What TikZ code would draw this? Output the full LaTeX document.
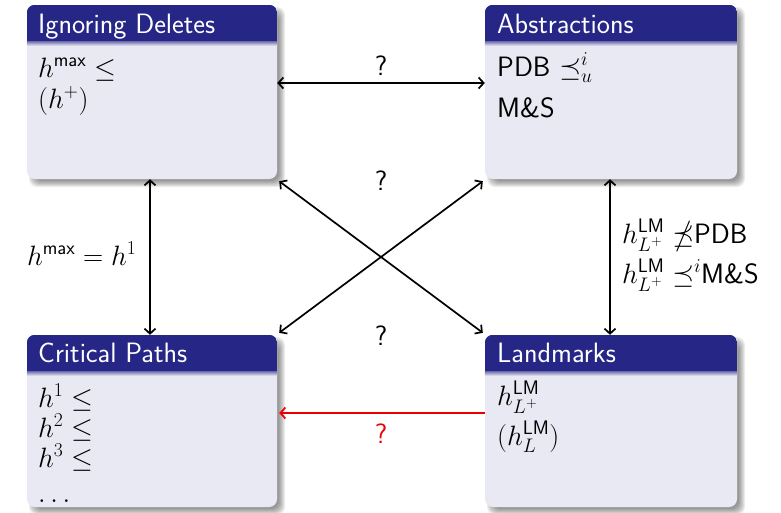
\RequirePackage{fix-cm}
\documentclass[tikz,border=0pt]{standalone}
\usepackage{amsmath,amssymb}
\usetikzlibrary{arrows.meta}
\definecolor{titlecol}{RGB}{38,38,134}
\definecolor{bodycol}{RGB}{233,233,243}
\definecolor{qred}{RGB}{235,0,0}
\tikzset{
  blockbox/.style={rectangle, rounded corners=8pt, fill=bodycol, inner sep=0pt},
  btitle/.style={anchor=base west, text=white, inner sep=0pt},
  btext/.style={anchor=base west, inner sep=0pt},
  qmark/.style={anchor=base, inner sep=0pt},
  conn/.style={line width=1.7pt, {Straight Barb[length=5pt,width=11pt]}-{Straight Barb[length=5pt,width=11pt]}},
  redconn/.style={line width=1.7pt, draw=qred, -{Straight Barb[length=5pt,width=11pt]}},
}
\newcommand{\myshadow}[4]{%
  \foreach \e in {-3,-2,-1,0,1,2,3}{%
    \fill[black, opacity=0.07, rounded corners=8pt] (#1+5-\e,#2+5-\e) rectangle (#3+5+\e,#4+5+\e);}%
}
\newcommand{\myblock}[5]{% name, x1, y1, x2, y2
  \myshadow{#2}{#3}{#4}{#5}
  \node[blockbox, minimum width=#4-#2, minimum height=#5-#3] (#1) at ({(#2+#4)/2},{(#3+#5)/2}) {};
  \begin{scope}
    \clip[rounded corners=8pt] (#1.south west) rectangle (#1.north east);
    \fill[titlecol] (#1.north west) rectangle ([yshift=-37pt]#1.north east);
    \shade[top color=titlecol!55!bodycol, bottom color=bodycol] ([yshift=-37pt]#1.north west) rectangle ([yshift=-41pt]#1.north east);
  \end{scope}
}
\begin{document}
\begin{tikzpicture}[x=1pt, y=-1pt, font=\fontsize{28}{33}\selectfont\sffamily]
\useasboundingbox (0,0) rectangle (781,512);
\myblock{TL}{27}{5}{277}{179}
\myblock{TR}{485}{5}{737}{179}
\myblock{BL}{27}{335}{277}{507}
\myblock{BR}{485}{335}{737}{507}

% titles
\node[btitle] (tTL) at (38,33) {Ignoring Deletes};
\node[btitle] (tTR) at (497,33) {Abstractions};
\node[btitle] (tBL) at (38,362) {Critical Paths};
\node[btitle] (tBR) at (497,362) {Landmarks};

% bodies
\node[btext] (a1) at (38,77) {$h^{\mathsf{max}} \le$};
\node[btext] (a2) at (38,108) {$(h^{+})$};
\node[btext] (b1) at (497,76) {PDB $\preceq^{i}_{u}$};
\node[btext] (b2) at (497,117) {M\&S};
\node[btext] (c1) at (38,407) {$h^{1} \le$};
\node[btext] (c2) at (38,437) {$h^{2} \le$};
\node[btext] (c3) at (38,467) {$h^{3} \le$};
\node[btext] (c4) at (38,502) {$\ldots$};
\node[btext] (d1) at (497,405) {$h^{\mathsf{LM}}_{L^{+}}$};
\node[btext] (d2) at (497,445) {$(h^{\mathsf{LM}}_{L})$};

% connectors
\draw[conn] ([yshift=9pt]TL.east) -- ([yshift=9pt]TR.west);
\draw[conn] ([xshift=-2pt]TL.south) -- ([xshift=-2pt]BL.north);
\draw[conn] ([xshift=-1pt]TR.south) -- ([xshift=-1pt]BR.north);
\draw[conn] ([shift={(2pt,-2pt)}]TL.south east) -- ([shift={(-2pt,2pt)}]BR.north west);
\draw[conn] ([shift={(-2pt,-2pt)}]TR.south west) -- ([shift={(2pt,2pt)}]BL.north east);
\draw[redconn] ([yshift=8pt]BR.west) -- ([shift={(2pt,8pt)}]BL.east);

% labels
\node[qmark] (q1) at (381,75) {?};
\node[qmark] (q2) at (381,190) {?};
\node[qmark] (q3) at (381,345) {?};
\node[qmark, text=qred] (q4) at (381,443) {?};
\node[btext] (l1) at (27,265) {$h^{\mathsf{max}} = h^{1}$};
\node[btext] (r1) at (622,243) {$h^{\mathsf{LM}}_{L^{+}} \npreceq$PDB};
\node[btext] (r2) at (622,283) {$h^{\mathsf{LM}}_{L^{+}} \preceq^{i}$M\&S};
\end{tikzpicture}
\end{document}
